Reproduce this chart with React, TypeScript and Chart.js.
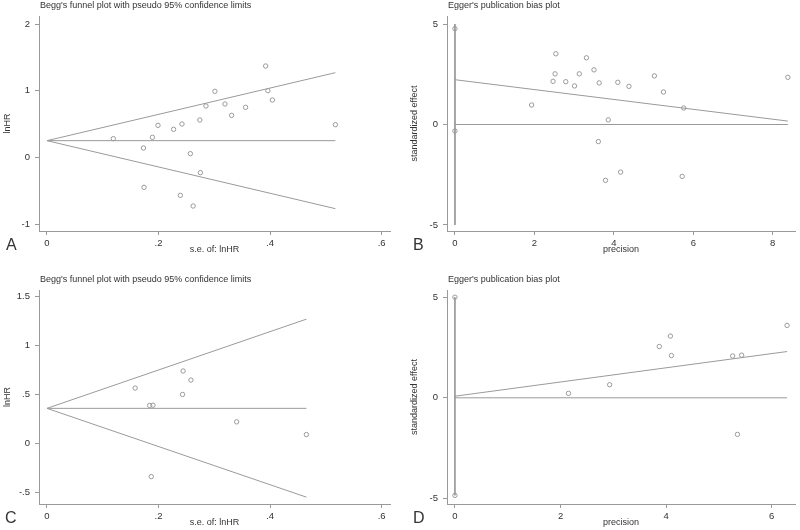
import React, { useEffect, useRef } from "react";
import { Chart, registerables } from "chart.js";

Chart.register(...registerables);

// ---------- Panel A: Begg's funnel plot ----------
const aSe = [0.119, 0.173, 0.189, 0.199, 0.174, 0.227, 0.242, 0.239, 0.257, 0.262, 0.274, 0.275, 0.285, 0.301, 0.319, 0.331, 0.356, 0.392, 0.396, 0.404, 0.517];
const aLnHR = [0.28, 0.14, 0.30, 0.48, -0.45, 0.42, 0.50, -0.57, 0.055, -0.73, 0.56, -0.23, 0.77, 0.99, 0.80, 0.63, 0.75, 1.37, 1.00, 0.86, 0.49];
const aLineSe = [0, 0.517];
const aPooled = [0.25, 0.25];
const aUpper = [0.25, 1.27];
const aLower = [0.25, -0.77];
const aXTicks = [0, 0.2, 0.4, 0.6];
const aYTicks = [-1, 0, 1, 2];

// ---------- Panel B: Egger's plot ----------
const bPrecision = [0, 0, 1.93, 2.47, 2.52, 2.54, 2.79, 3.01, 3.13, 3.31, 3.5, 3.61, 3.63, 3.79, 3.86, 4.1, 4.17, 4.38, 5.02, 5.25, 5.72, 5.76, 8.38];
const bEffect = [4.77, -0.32, 0.97, 2.15, 2.52, 3.52, 2.13, 1.92, 2.52, 3.32, 2.72, -0.85, 2.07, -2.78, 0.23, 2.1, -2.37, 1.9, 2.42, 1.62, -2.58, 0.82, 2.35];
const bFitX = [0, 8.38];
const bFitY = [2.23, 0.17];
const bZeroY = [0, 0];
const bCiX = [0, 0];
const bCiY = [5, -5];
const bXTicks = [0, 2, 4, 6, 8];
const bYTicks = [-5, 0, 5];

// ---------- Panel C: Begg's funnel plot ----------
const cSe = [0.158, 0.184, 0.19, 0.187, 0.243, 0.244, 0.258, 0.34, 0.465];
const cLnHR = [0.565, 0.388, 0.39, -0.34, 0.5, 0.74, 0.647, 0.22, 0.09];
const cLineSe = [0, 0.465];
const cPooled = [0.358, 0.358];
const cUpper = [0.358, 1.27];
const cLower = [0.358, -0.55];
const cXTicks = [0, 0.2, 0.4, 0.6];
const cYTicks = [-0.5, 0, 0.5, 1, 1.5];

// ---------- Panel D: Egger's plot ----------
const dPrecision = [0, 0, 2.15, 2.93, 3.87, 4.08, 4.1, 5.26, 5.43, 5.35, 6.29];
const dEffect = [5.0, -4.85, 0.22, 0.65, 2.55, 3.07, 2.1, 2.08, 2.12, -1.82, 3.6];
const dFitX = [0, 6.29];
const dFitY = [0.08, 2.3];
const dZeroY = [0, 0];
const dCiX = [0, 0];
const dCiY = [5.0, -4.85];
const dXTicks = [0, 2, 4, 6];
const dYTicks = [-5, 0, 5];

const FONT = "'Liberation Sans', Arial, sans-serif";
const TEXT = "#333";
const GRAY = "#9a9a9a";

const pts = (xs: number[], ys: number[]) => xs.map((x, i) => ({ x, y: ys[i] }));

const fmt = (v: number) => {
  let s = String(+Number(v).toFixed(2));
  s = s.replace(/^0\./, ".").replace(/^-0\./, "-.");
  return s;
};

type PanelCfg = {
  letter: string;
  title: string;
  xTitle: string;
  yTitle: string;
  xMin: number; xMax: number; yMin: number; yMax: number;
  xTicks: number[]; yTicks: number[];
  points: { x: number; y: number }[];
  lines: { x: number; y: number }[][];
  yWidth: number; xHeight: number; padTop: number; padRight: number;
  yTitlePad: number; letterX: number;
};

const panels: { left: number; top: number; cfg: PanelCfg }[] = [
  {
    left: 0, top: 0,
    cfg: {
      letter: "A", title: "Begg's funnel plot with pseudo 95% confidence limits",
      xTitle: "s.e. of: lnHR", yTitle: "lnHR",
      xMin: -0.0143, xMax: 0.6149, yMin: -1.105, yMax: 2.12,
      xTicks: aXTicks, yTicks: aYTicks,
      points: pts(aSe, aLnHR),
      lines: [pts(aLineSe, aPooled), pts(aLineSe, aUpper), pts(aLineSe, aLower)],
      yWidth: 39, xHeight: 34, padTop: 16, padRight: 10, yTitlePad: 2.6, letterX: 6,
    },
  },
  {
    left: 400, top: 0,
    cfg: {
      letter: "B", title: "Egger's publication bias plot",
      xTitle: "precision", yTitle: "standardized effect",
      xMin: -0.2, xMax: 8.56, yMin: -5.3, yMax: 5.4,
      xTicks: bXTicks, yTicks: bYTicks,
      points: pts(bPrecision, bEffect),
      lines: [pts(bFitX, bFitY), pts(bFitX, bZeroY), pts(bCiX, bCiY)],
      yWidth: 47, xHeight: 34, padTop: 16, padRight: 2, yTitlePad: 9.6, letterX: 13,
    },
  },
  {
    left: 0, top: 273,
    cfg: {
      letter: "C", title: "Begg's funnel plot with pseudo 95% confidence limits",
      xTitle: "s.e. of: lnHR", yTitle: "lnHR",
      xMin: -0.0143, xMax: 0.6149, yMin: -0.62, yMax: 1.568,
      xTicks: cXTicks, yTicks: cYTicks,
      points: pts(cSe, cLnHR),
      lines: [pts(cLineSe, cPooled), pts(cLineSe, cUpper), pts(cLineSe, cLower)],
      yWidth: 39, xHeight: 34, padTop: 17, padRight: 10, yTitlePad: 2.6, letterX: 5,
    },
  },
  {
    left: 400, top: 273,
    cfg: {
      letter: "D", title: "Egger's publication bias plot",
      xTitle: "precision", yTitle: "standardized effect",
      xMin: -0.15, xMax: 6.44, yMin: -5.28, yMax: 5.36,
      xTicks: dXTicks, yTicks: dYTicks,
      points: pts(dPrecision, dEffect),
      lines: [pts(dFitX, dFitY), pts(dFitX, dZeroY), pts(dCiX, dCiY)],
      yWidth: 47, xHeight: 34, padTop: 17, padRight: 2, yTitlePad: 9.6, letterX: 13,
    },
  },
];

function Panel({ cfg }: { cfg: PanelCfg }) {
  const ref = useRef<HTMLCanvasElement | null>(null);
  useEffect(() => {
    if (!ref.current) return;
    const labelsPlugin = {
      id: "panelLabels",
      afterDraw(chart: any) {
        const ctx = chart.ctx;
        const area = chart.chartArea;
        ctx.save();
        ctx.fillStyle = TEXT;
        ctx.textBaseline = "middle";
        ctx.textAlign = "left";
        ctx.font = `9px ${FONT}`;
        ctx.fillText(cfg.title, area.left + 1, area.top - 10);
        ctx.font = `16px ${FONT}`;
        ctx.fillText(cfg.letter, cfg.letterX, area.bottom + 15);
        ctx.restore();
      },
    };
    const lineDs = cfg.lines.map((d) => ({
      data: d,
      showLine: true,
      borderColor: GRAY,
      borderWidth: 1,
      pointRadius: 0,
      fill: false,
    }));
    const chart = new Chart(ref.current, {
      type: "scatter",
      data: {
        datasets: [
          ...lineDs,
          {
            data: cfg.points,
            showLine: false,
            pointRadius: 2.2,
            pointBorderWidth: 1,
            borderColor: GRAY,
            backgroundColor: "rgba(0,0,0,0)",
          },
        ] as any,
      },
      plugins: [labelsPlugin],
      options: {
        animation: false,
        responsive: false,
        layout: { padding: { left: 0, top: cfg.padTop, right: cfg.padRight, bottom: 0 } },
        plugins: { legend: { display: false }, tooltip: { enabled: false } },
        scales: {
          x: {
            type: "linear",
            min: cfg.xMin,
            max: cfg.xMax,
            afterBuildTicks: (s: any) => { s.ticks = cfg.xTicks.map((v) => ({ value: v })); },
            afterFit: (s: any) => { s.height = cfg.xHeight; },
            ticks: { callback: (v: any) => fmt(v), font: { family: FONT, size: 9.5 }, color: TEXT, padding: 3, maxRotation: 0, autoSkip: false },
            grid: { drawOnChartArea: false, drawTicks: true, tickLength: 4, color: GRAY },
            border: { display: true, color: GRAY, width: 1 },
            title: { display: true, text: cfg.xTitle, font: { family: FONT, size: 9 }, color: TEXT, padding: { top: 0, bottom: 10 } },
          },
          y: {
            type: "linear",
            min: cfg.yMin,
            max: cfg.yMax,
            afterBuildTicks: (s: any) => { s.ticks = cfg.yTicks.map((v) => ({ value: v })); },
            afterFit: (s: any) => { s.width = cfg.yWidth; },
            ticks: { callback: (v: any) => fmt(v), font: { family: FONT, size: 9.5 }, color: TEXT, padding: 5, autoSkip: false },
            grid: { drawOnChartArea: false, drawTicks: true, tickLength: 4, color: GRAY },
            border: { display: true, color: GRAY, width: 1 },
            title: { display: true, text: cfg.yTitle, font: { family: FONT, size: 9 }, color: TEXT, padding: { top: cfg.yTitlePad, bottom: 0 } },
          },
        },
      } as any,
    });
    return () => chart.destroy();
  }, [cfg]);
  return <canvas ref={ref} width={400} height={265} style={{ display: "block" }} />;
}

export default function App() {
  return (
    <div style={{ position: "absolute", left: 0, top: 0, width: 800, height: 530, overflow: "hidden", background: "#fff" }}>
      {panels.map((p, i) => (
        <div key={i} style={{ position: "absolute", left: p.left, top: p.top, width: 400, height: 265 }}>
          <Panel cfg={p.cfg} />
        </div>
      ))}
    </div>
  );
}
